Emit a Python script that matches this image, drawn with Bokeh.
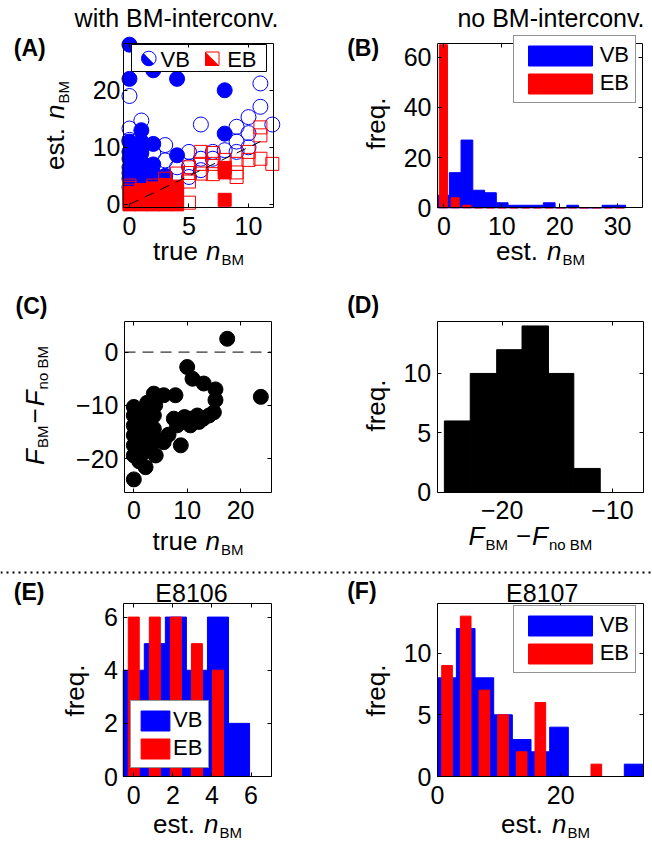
import math
from bokeh.plotting import figure
from bokeh.models import Range1d, FixedTicker, LinearAxis, Label, Legend, LegendItem, Span
from bokeh.layouts import column, row
from bokeh.embed import file_html
from bokeh.resources import INLINE
from bokeh.core.properties import value

FONT = "Liberation Sans"
BLUE = "#0000FF"
RED = "#FF0000"
MID = 0.3465  # distance (in em) from baseline to the middle of the text box

# ---------------- data ----------------
# (A) with BM-interconversion: true n_BM vs estimated n_BM
a_xlim = [-0.5, 12.1]
a_ylim = [-0.6, 28.2]
a_vb_filled_x = [0, 0, 2, 4, 8, 1, 8, 2, 0, 1, 4, 2, 0, 1, 3, 0, 0, 1, 2, 0, 1, 2, 1, 0, 3, 2, 1, 0]
a_vb_filled_y = [28, 22, 23.5, 22, 20, 13, 12.4, 10.6, 9.2, 9, 8.6, 7, 6.5, 5.5, 5, 4.5, 3, 3.5, 4.2, 8, 7.5, 5.5, 11, 5.5, 4, 3, 10, 11]
a_vb_open_x = [0, 0, 0, 1, 3, 6, 5, 7, 9, 9, 10, 11, 11, 12, 3, 5, 4, 5, 6, 8, 10, 2, 7, 9, 6, 10]
a_vb_open_y = [19, 13.3, 11.3, 14.7, 10.4, 14, 9.2, 9.2, 13.6, 9.2, 15.3, 17.1, 21.2, 14, 7.7, 4.8, 6.5, 6.6, 8, 9.5, 10, 9, 8, 11, 6, 12.5]
a_eb_filled_x = [0, 0, 0, 1, 1, 1, 2, 2, 2, 2, 3, 3, 3, 3, 4, 4, 4, 4, 8, 8, 8, 1, 0]
a_eb_filled_y = [0, 1, 2, 0, 1, 2, 0, 1, 2, 2.8, 0, 1, 2, 3.4, 0, 1, 2, 3, 0.8, 5.6, 6.4, 2.5, 0.5]
a_eb_open_x = [0, 0, 0, 2, 3, 4, 5, 5, 5, 6, 6, 6, 7, 7, 8, 9, 9, 10, 10, 11, 11, 11, 12, 7, 9, 5]
a_eb_open_y = [2.4, 2.9, 3.3, 3.3, 4.5, 5.4, 6.5, 5.5, 0.3, 9.2, 7.1, 5.4, 7.1, 5.3, 7.8, 7.1, 4.8, 9.2, 7.8, 12.1, 13.5, 8.0, 7.1, 9, 5.6, 4]
a_diag_x = [0, 11]
a_diag_y = [0, 11]

# (B) no BM-interconversion: histogram of estimated n_BM
b_xlim = [-1.1, 34.3]
b_ylim = [0, 65.5]
b_bin_centers = [-0.08, 1.95, 3.98, 6.01, 8.04, 10.07, 12.1, 14.13, 16.16, 18.19, 20.22, 22.25, 24.28, 26.31, 28.34, 30.37]
b_vb_counts = [5, 14, 27, 7, 6, 2, 1, 1, 1, 2, 0, 1, 0, 0, 1, 1]
b_eb_counts = [65, 4, 1, 0, 0, 0, 0, 0, 0, 0, 0, 0, 0, 0, 0, 0]

# (C) F_BM - F_noBM vs true n_BM
c_xlim = [-1.75, 25.8]
c_ylim = [-26.3, 5.8]
c_true_n = [17.5, 23.8, 0, 10, 11, 13.1, 15.3, 15.3, 15, 14.1, 12.2, 10.6, 9.1, 7.5, 8.8, 3.75, 5.6, 7.8,
            0, 0, 0, 0, 0, 0, 1, 1, 1, 1, 1, 1.9, 1.9, 1.9, 1.9, 2.2, 3, 3, 3, 3, 3.75, 3.75, 4.1, 4.5,
            5.6, 11.9, 8.1, 13, 4, 2.5, 0.5, 0.5, 6.5, 9.5, 10.5, 1, 2.8]
c_dF = [2.5, -8.4, -23.9, -2.8, -5, -5.9, -7, -9, -11.3, -11.9, -13.1, -13.75, -13.1, -12.5, -17.5, -7.8, -8.1, -8.1,
        -10.3, -11.9, -13.8, -15.6, -17.5, -19.4, -11, -13, -15, -17, -19, -11.9, -14.4, -16.9, -18.8, -21.6, -12, -14, -16, -18,
        -11.9, -14.4, -19.4, -16.5, -16.9, -11.9, -13.75, -12.5, -10, -9.5, -12.5, -16.5, -15.5, -12.2, -12.5, -20.5, -10.5]
c_ref_level = [0]

# (D) histogram of F_BM - F_noBM
d_xlim = [-25.9, -7.2]
d_ylim = [0, 14.4]
d_bin_left = [-25.25, -22.9, -20.5, -18.2, -15.8, -13.5]
d_bin_right = [-22.9, -20.5, -18.2, -15.8, -13.5, -11.1]
d_counts = [6, 10, 12, 14, 10, 2]

# (E) E8106 histogram
e_xlim = [-0.51, 7.03]
e_ylim = [0, 6.5]
e_bin_centers = [0, 1.077, 2.154, 3.231, 4.308, 5.385, 6.462]
e_vb_counts = [4, 5, 6, 4, 6, 2, 0]
e_eb_counts = [6, 6, 6, 5, 4, 0, 0]

# (F) E8107 histogram
f_xlim = [0, 33.4]
f_ylim = [0, 14.0]
f_bin_centers = [1.55, 4.58, 7.61, 10.64, 13.67, 16.7, 19.73, 22.76, 25.79, 28.82, 31.85]
f_vb_counts = [8, 12, 8, 5, 3, 2, 4, 0, 0, 0, 1]
f_eb_counts = [9, 13, 7, 5, 2, 6, 0, 0, 1, 0, 0]

# ---------------- helpers ----------------
CW = {' ': 278, '.': 278, 'e': 556, 's': 500, 't': 278, 'r': 333, 'u': 556, 'n': 556, 'B': 667,
      'M': 833, 'F': 611, '\u2212': 584, 'o': 556, 'f': 278, 'q': 556, '-': 333}


def text_width(s, size):
    return sum(CW.get(ch, 556) for ch in s) / 1000.0 * size


def geom(ox, oy, W, H, box, xlim, ylim):
    bx0, bx1, by0, by1 = box
    x0, x1 = xlim
    y0, y1 = ylim
    sx = (x1 - x0) / (bx1 - bx0)
    sy = (y1 - y0) / (by1 - by0)
    return dict(ox=ox, oy=oy, W=W, H=H, fl=bx0, fr=bx1, ft=by0, fb=by1, x0=x0, x1=x1, y0=y0, y1=y1,
                xr=(x0 + (ox - bx0) * sx, x0 + (ox + W - bx0) * sx),
                yr=(y0 - (oy + H - by1) * sy, y1 + (by0 - oy) * sy))


def to_data(g, px, py):
    x = g["x0"] + (px - g["fl"]) / (g["fr"] - g["fl"]) * (g["x1"] - g["x0"])
    y = g["y0"] + (g["fb"] - py) / (g["fb"] - g["ft"]) * (g["y1"] - g["y0"])
    return x, y


def style_axis(ax, ticks, overrides, standoff, loc, bounds, show=True):
    ax.ticker = FixedTicker(ticks=ticks)
    ax.fixed_location = loc
    ax.bounds = bounds
    ax.major_tick_in = 4
    ax.major_tick_out = 0
    ax.minor_tick_line_color = None
    ax.major_tick_line_color = "black"
    ax.axis_line_color = "black"
    ax.major_label_text_font = FONT
    ax.major_label_text_font_size = "25px" if show else "0px"
    ax.major_label_text_color = "black"
    ax.major_label_standoff = standoff
    ax.major_label_overrides = overrides


def make_fig(g, xticks, yticks, xover=None, yover=None, ystand=6, xstand=9):
    p = figure(width=g["W"], height=g["H"], x_range=Range1d(*g["xr"]), y_range=Range1d(*g["yr"]),
               output_backend="svg", toolbar_location=None, title=None, min_border=0)
    p.xgrid.visible = False
    p.ygrid.visible = False
    p.outline_line_color = None
    p.background_fill_color = "white"
    p.border_fill_color = "white"
    xb = (g["x0"], g["x1"])
    yb = (g["y0"], g["y1"])
    style_axis(p.xaxis[0], xticks, xover or {}, xstand, g["y0"], xb)
    style_axis(p.yaxis[0], yticks, yover or {}, ystand, g["x0"], yb)
    top = LinearAxis()
    style_axis(top, xticks, {t: "" for t in xticks}, 0, g["y1"], xb, False)
    right = LinearAxis()
    style_axis(right, yticks, {t: "" for t in yticks}, 0, g["x1"], yb, False)
    p.add_layout(top, "above")
    p.add_layout(right, "right")
    return p


def put_text(p, g, px, py, text, size, style="normal", align="left", angle=0.0):
    # (px, py) is the baseline anchor in page pixels; converted to a middle anchor
    if angle == 0.0:
        py = py - MID * size
    else:
        px = px - MID * size
    x, y = to_data(g, px, py)
    p.add_layout(Label(x=x, y=y, text=text, text_font=FONT, text_font_size=f"{size}px",
                       text_font_style=style, text_align=align, text_baseline="middle",
                       angle=angle, text_color="black"))


def comp_label(p, g, pieces, cx, cy, rotated=False, start=None):
    total = sum(gap + text_width(t, s) for t, s, st, d, gap in pieces)
    off = 0.0
    for t, s, st, d, gap in pieces:
        off += gap
        if rotated:
            y0 = cy + total / 2.0
            put_text(p, g, cx + d, y0 - off, t, s, st, angle=math.pi / 2)
        else:
            x0 = start if start is not None else cx - total / 2.0
            put_text(p, g, x0 + off, cy + d, t, s, st)
        off += text_width(t, s)


LS, SS = 26, 15
est_n = [("est.", LS, "normal", 0, 0), ("n", LS, "italic", 0, 9), ("BM", SS, "normal", 4, 1)]
true_n = [("true", LS, "normal", 0, 0), ("n", LS, "italic", 0, 8), ("BM", SS, "normal", 4, 1)]
freq = [("freq.", LS, "normal", 0, 0)]
dF_c = [("F", LS, "italic", 0, 0), ("BM", SS, "normal", 4, 1), ("\u2212", LS, "normal", 0, 2),
        ("F", LS, "italic", 0, 2), ("no BM", SS, "normal", 4, 1)]
dF_d = [("F", LS, "italic", 0, 0), ("BM", SS, "normal", 4, 1), ("\u2212", LS, "normal", 0, 8),
        ("F", LS, "italic", 0, 1), ("no BM", SS, "normal", 4, 1)]
NEG = {-10: "\u221210", -20: "\u221220"}


def add_legend(p, g, r_vb, r_eb, left, bottom, gw):
    loc = (left - g["ox"], g["oy"] + g["H"] - bottom)
    lg = Legend(items=[LegendItem(label="VB", renderers=[r_vb]), LegendItem(label="EB", renderers=[r_eb])],
                location=loc, glyph_width=gw, glyph_height=25, label_text_font=FONT,
                label_text_font_size="22px", label_text_color="black", label_standoff=0,
                padding=6, spacing=2, margin=0, border_line_color="#262626", border_line_width=1,
                background_fill_color="white", background_fill_alpha=1.0)
    p.add_layout(lg)


# ---------------- panel A ----------------
gA = geom(0, 0, 326, 270, (123, 273, 43, 207.3), a_xlim, a_ylim)
pA = make_fig(gA, [0, 5, 10], [0, 10, 20], ystand=3)
pA.scatter(a_vb_filled_x, a_vb_filled_y, marker="circle", size=15, fill_color=BLUE, line_color=BLUE)
pA.scatter(a_vb_open_x, a_vb_open_y, marker="circle", size=15, fill_color=None, line_color=BLUE, line_width=1)
pA.scatter(a_eb_filled_x, a_eb_filled_y, marker="square", size=13, fill_color=RED, line_color=RED)
pA.scatter(a_eb_open_x, a_eb_open_y, marker="square", size=13, fill_color=None, line_color=RED, line_width=1)
pA.line(a_diag_x, a_diag_y, line_color="black", line_dash="10 7", line_width=1)
# legend box (decoration)
lx0, ly0 = to_data(gA, 131, 71)
lx1, ly1 = to_data(gA, 266, 44)
pA.quad(left=[lx0], right=[lx1], bottom=[ly0], top=[ly1], fill_color="white", line_color="black", line_width=1)
cxs, cys = to_data(gA, 148.3, 58)
pA.wedge(x=[cxs], y=[cys], radius=7.3, radius_units="screen", start_angle=3 * math.pi / 4,
         end_angle=7 * math.pi / 4, fill_color=BLUE, line_color=None)
pA.scatter(x=[cxs], y=[cys], marker="circle", size=14.6, fill_color=None, line_color=BLUE, line_width=1)
sq0x, sq0y = to_data(gA, 205, 65)
sq1x, sq1y = to_data(gA, 218.5, 51.5)
pA.patch(x=[sq0x, sq0x, sq1x], y=[sq1y, sq0y, sq0y], fill_color=RED, line_color=None)
pA.quad(left=[sq0x], right=[sq1x], bottom=[sq0y], top=[sq1y], fill_color=None, line_color=RED, line_width=1)
vbx, vby = to_data(gA, 160, 59)
ebx, eby = to_data(gA, 226.7, 59)
pA.text(x=[vbx, ebx], y=[vby, eby], text=["VB", "EB"], text_font=value(FONT), text_font_size=value("22px"),
        text_align="left", text_baseline="middle", text_color="black")
put_text(pA, gA, 176, 26, "with BM-interconv.", 25, align="center")
put_text(pA, gA, 13.3, 55, "(A)", 23, style="bold")
comp_label(pA, gA, est_n, 64, 125, rotated=True)
comp_label(pA, gA, true_n, 198, 260)

# ---------------- panel B ----------------
gB = geom(326, 0, 326, 270, (437, 642, 43, 207.3), b_xlim, b_ylim)
pB = make_fig(gB, [0, 10, 20, 30], [0, 20, 40, 60])
rb = pB.vbar(x=b_bin_centers, width=2.03, top=b_vb_counts, fill_color=BLUE, line_color=BLUE)
rr = pB.vbar(x=b_bin_centers, width=1.4, top=b_eb_counts, fill_color=RED, line_color=RED)
add_legend(pB, gB, rb, rr, 512.7, 103.3, 80)
put_text(pB, gB, 550.5, 26, "no BM-interconv.", 25, align="center")
put_text(pB, gB, 346.7, 55, "(B)", 23, style="bold")
comp_label(pB, gB, freq, 385, 123, rotated=True)
comp_label(pB, gB, est_n, 540, 260)

# ---------------- panel C ----------------
gC = geom(0, 270, 326, 295, (124, 271, 320.7, 491.7), c_xlim, c_ylim)
pC = make_fig(gC, [0, 10, 20], [-20, -10, 0], yover=NEG)
pC.segment(x0=[c_xlim[0]], x1=[c_xlim[1]], y0=c_ref_level, y1=c_ref_level, line_color="black",
           line_dash="11 7", line_width=1)
pC.scatter(c_true_n, c_dF, marker="circle", size=15, fill_color="black", line_color="black")
put_text(pC, gC, 15, 313, "(C)", 23, style="bold")
comp_label(pC, gC, dF_c, 43.3, 405, rotated=True)
comp_label(pC, gC, true_n, 197.5, 550)

# ---------------- panel D ----------------
gD = geom(326, 270, 326, 295, (436.7, 642.7, 320.7, 491.7), d_xlim, d_ylim)
pD = make_fig(gD, [-20, -10], [0, 5, 10], xover=NEG)
pD.quad(left=d_bin_left, right=d_bin_right, bottom=0, top=d_counts, fill_color="black", line_color="black")
put_text(pD, gD, 346.7, 312, "(D)", 23, style="bold")
comp_label(pD, gD, freq, 385, 405, rotated=True)
comp_label(pD, gD, dF_d, 0, 545, start=468)

# ---------------- separator ----------------
pS = figure(width=652, height=10, x_range=Range1d(0, 1), y_range=Range1d(0, 1), output_backend="svg",
            toolbar_location=None, title=None, x_axis_location=None, y_axis_location=None,
            min_border=0)
pS.xgrid.visible = False
pS.ygrid.visible = False
pS.outline_line_color = None
pS.add_layout(Span(location=0.5, dimension="width", line_color="black", line_dash="2 4", line_width=2))

# ---------------- panel E ----------------
gE = geom(0, 575, 326, 266, (123.3, 270.7, 603.3, 776), e_xlim, e_ylim)
pE = make_fig(gE, [0, 2, 4, 6], [0, 2, 4, 6])
eb_ = pE.vbar(x=e_bin_centers, width=1.077, top=e_vb_counts, fill_color=BLUE, line_color=BLUE)
er_ = pE.vbar(x=e_bin_centers, width=0.56, top=e_eb_counts, fill_color=RED, line_color=RED)
add_legend(pE, gE, eb_, er_, 130, 768.3, 36)
put_text(pE, gE, 13.3, 599, "(E)", 23, style="bold")
put_text(pE, gE, 191, 601, "E8106", 25, align="center")
comp_label(pE, gE, freq, 84, 690, rotated=True)
comp_label(pE, gE, est_n, 197, 833)

# ---------------- panel F ----------------
gF = geom(326, 575, 326, 266, (437, 642.7, 603.3, 776), f_xlim, f_ylim)
pF = make_fig(gF, [0, 20], [0, 5, 10])
fb_ = pF.vbar(x=f_bin_centers, width=3.03, top=f_vb_counts, fill_color=BLUE, line_color=BLUE)
fr_ = pF.vbar(x=f_bin_centers, width=1.73, top=f_eb_counts, fill_color=RED, line_color=RED)
add_legend(pF, gF, fb_, fr_, 512.7, 673.3, 80)
put_text(pF, gF, 346.7, 598, "(F)", 23, style="bold")
put_text(pF, gF, 541.7, 601, "E8107", 25, align="center")
comp_label(pF, gF, freq, 385, 690, rotated=True)
comp_label(pF, gF, est_n, 545, 833)

layout = column(row(pA, pB), row(pC, pD), pS, row(pE, pF))
open("out.html", "w").write(file_html(layout, INLINE))
